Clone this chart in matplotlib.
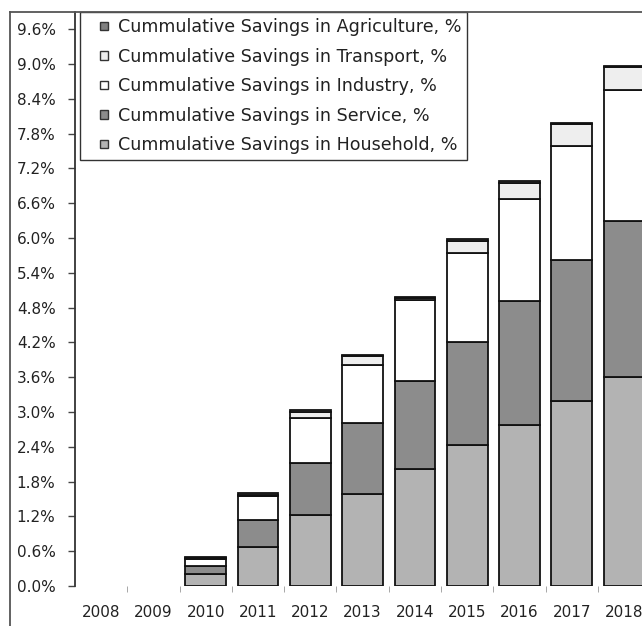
import numpy as np
import matplotlib
matplotlib.use("Agg")
import matplotlib.pyplot as plt
from matplotlib.lines import Line2D
from matplotlib.patches import Patch, Rectangle
from matplotlib.legend_handler import HandlerPatch
from matplotlib.ticker import FuncFormatter

# cumulative savings per sector, % (stacked from household upwards)
years = ["2008", "2009", "2010", "2011", "2012", "2013", "2014", "2015", "2016", "2017", "2018"]
household = [0, 0, 0.21, 0.67, 1.22, 1.59, 2.01, 2.43, 2.77, 3.19, 3.61]
service = [0, 0, 0.14, 0.47, 0.90, 1.22, 1.53, 1.78, 2.14, 2.43, 2.68]
industry = [0, 0, 0.12, 0.42, 0.77, 1.00, 1.39, 1.53, 1.76, 1.97, 2.26]
transport = [0, 0, 0.01, 0.01, 0.11, 0.15, 0.03, 0.21, 0.28, 0.37, 0.39]
agriculture = [0, 0, 0.02, 0.03, 0.03, 0.03, 0.03, 0.03, 0.03, 0.03, 0.03]

series = [
    ("Cummulative Savings in Household, %", household, "#b3b3b3"),
    ("Cummulative Savings in Service, %", service, "#8c8c8c"),
    ("Cummulative Savings in Industry, %", industry, "#ffffff"),
    ("Cummulative Savings in Transport, %", transport, "#eeeeee"),
    ("Cummulative Savings in Agriculture, %", agriculture, "#808080"),
]

plt.rcParams["font.family"] = "DejaVu Sans"
plt.rcParams["text.color"] = "#222222"

W, H = 642, 626
fig = plt.figure(figsize=(W / 100, H / 100), dpi=100)
ax = fig.add_axes([75 / W, 40 / H, (W - 75) / W, 574 / H])

x = np.arange(len(years))
bottom = np.zeros(len(years))
handles = []
for name, vals, color in series:
    vals = np.array(vals, dtype=float)
    bars = ax.bar(x, vals, width=0.78, bottom=bottom, color=color,
                  edgecolor="#111111", linewidth=1.3)
    # no outline for empty years
    for b, v in zip(bars, vals):
        if v == 0:
            b.set_visible(False)
    handles.append(Patch(facecolor=color, edgecolor="#333333", linewidth=1.0))
    bottom += vals

ax.set_xlim(-0.5, -0.5 + 567 / 52.3)
ax.set_ylim(0, 574 / 58.0)

ax.set_yticks(np.arange(0, 9.61, 0.6))
ax.yaxis.set_major_formatter(FuncFormatter(lambda v, p: f"{v:.1f}%"))
ax.tick_params(axis="y", direction="out", length=5, width=1, color="#444444",
               labelsize=11, labelcolor="#222222", pad=9)

ax.set_xticks(x)
ax.set_xticklabels(years)
ax.set_xticks(x[:-1] + 0.5, minor=True)
ax.tick_params(axis="x", which="major", length=0, labelsize=11,
               labelcolor="#222222", pad=14)
ax.tick_params(axis="x", which="minor", direction="out", length=4,
               color="#999999")

for side in ["top", "right", "bottom"]:
    ax.spines[side].set_visible(False)
ax.spines["left"].set_color("#333333")
ax.spines["left"].set_linewidth(1.3)


def small_square(legend, orig_handle, xdescent, ydescent, width, height, fontsize):
    # square pushed to the right end of the handle box
    s = 6.0
    return Rectangle((-xdescent + width - s, -ydescent + (height - s) / 2), s, s)


ax.legend(handles[::-1], [s[0] for s in series[::-1]],
          loc="upper left", bbox_to_anchor=(5 / 567, 1.0), borderaxespad=0,
          frameon=True, fancybox=False, edgecolor="#333333", framealpha=1,
          fontsize=12.6, handlelength=1.25, handleheight=0.6,
          handletextpad=0.55, labelspacing=0.66, borderpad=0.35,
          handler_map={Patch: HandlerPatch(patch_func=small_square)})

# chart-area border (left and top edges)
ytop = (H - 12) / H
fig.add_artist(Line2D([10 / W, 10 / W], [0, ytop], color="#555555", lw=1.3))
fig.add_artist(Line2D([10 / W, 1], [ytop, ytop], color="#555555", lw=1.3))

fig.savefig("out.png", dpi=100)
